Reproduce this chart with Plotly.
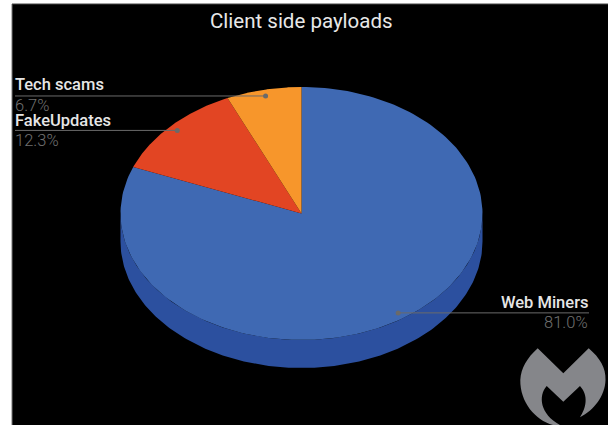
import numpy as np
import plotly.graph_objects as go

# Slices, clockwise from twelve o'clock
categories = ["Web Miners", "FakeUpdates", "Tech scams"]
shares = [81.0, 12.3, 6.7]
slice_colors = ["#3f69b3", "#e24523", "#f7962b"]
wall_color = "#2c509f"
title_text = "Client side payloads"

# Page geometry in pixels
WIDTH, HEIGHT = 608, 425
LEFT, TOP = 12, 4
CX, CY, RX, RY = 301.5, 213.5, 181, 126.5
DEPTH = 28 / RY


def px_x(px):
    return (px - LEFT) / (WIDTH - LEFT)


def px_y(py):
    return (HEIGHT - py) / (HEIGHT - TOP)


def rim(theta):
    """Point on the unit pie top for clockwise angle theta, 0 at the top."""
    return np.sin(theta), np.cos(theta)


fig = go.Figure()

# Front wall of the tilted disc
t = np.linspace(np.pi / 2, 3 * np.pi / 2, 200)
wx, wy = rim(t)
fig.add_trace(go.Scatter(
    x=np.concatenate([wx, wx[::-1]]),
    y=np.concatenate([wy - DEPTH, wy[::-1]]),
    fill="toself", fillcolor=wall_color, mode="lines", line=dict(width=0),
    hoverinfo="skip",
))

# Top face of each slice
edges = np.concatenate([[0], np.cumsum(shares)]) / sum(shares) * 2 * np.pi
mids = (edges[:-1] + edges[1:]) / 2
for i, color in enumerate(slice_colors):
    t = np.linspace(edges[i], edges[i + 1], 200)
    sx, sy = rim(t)
    fig.add_trace(go.Scatter(
        x=np.concatenate([[0], sx, [0]]),
        y=np.concatenate([[0], sy, [0]]),
        fill="toself", fillcolor=color, mode="lines", line=dict(width=0),
        name=categories[i], hoverinfo="name",
    ))

# Leader lines: slice anchor out to its label column
label_ends = [589, 15, 15]
label_lines = [313, 131, 96]
for i, (x_end, y_line) in enumerate(zip(label_ends, label_lines)):
    ax, ay = rim(mids[i])
    ax, ay = ax * 0.95, ay * 0.95
    fig.add_trace(go.Scatter(
        x=[ax, (x_end - CX) / RX], y=[ay, ay],
        mode="lines", line=dict(color="#6a6a6a", width=1), hoverinfo="skip",
    ))
    fig.add_trace(go.Scatter(
        x=[ax], y=[ay], mode="markers",
        marker=dict(color="#6a6a6a", size=5), hoverinfo="skip",
    ))

annotations = [dict(
    text=title_text, x=px_x(301.5), y=px_y(21), xref="paper", yref="paper",
    showarrow=False, xanchor="center", yanchor="middle",
    font=dict(family="Roboto", size=20.5, color="#e8e8e8"),
)]
for i, (x_end, y_line) in enumerate(zip(label_ends, label_lines)):
    anchor = "right" if x_end > CX else "left"
    nudge = 0 if x_end > CX else -1
    annotations.append(dict(
        text=categories[i], x=px_x(x_end), y=px_y(y_line - 11),
        xref="paper", yref="paper", showarrow=False, xanchor=anchor,
        yanchor="middle", xshift=nudge, borderpad=0,
        font=dict(family="Roboto", size=16.5, weight=500, color="#e6e6e6"),
    ))
    annotations.append(dict(
        text=f"{shares[i]:.1f}%", x=px_x(x_end), y=px_y(y_line + 9.5),
        xref="paper", yref="paper", showarrow=False, xanchor=anchor,
        yanchor="middle", xshift=nudge, borderpad=0,
        font=dict(family="Roboto", size=16.5, weight=300, color="#707070"),
    ))


def logo_path():
    """Grey vendor badge, outlined with curves in page pixels."""
    segments = [
        ("M", [(537.7, 348.3)]),
        ("L", [(563.3, 373.3)]),
        ("L", [(588.7, 348.3)]),
        ("C", [(600, 358), (606, 368), (605.5, 380)]),
        ("C", [(605, 396), (594, 410), (580, 417.3)]),
        ("C", [(586, 408), (589, 396), (580, 386)]),
        ("L", [(563.3, 401.7)]),
        ("L", [(546.7, 386)]),
        ("C", [(538, 396), (540, 414), (560, 425)]),
        ("L", [(553, 425)]),
        ("C", [(535, 420), (520, 402), (520.3, 380)]),
        ("C", [(521, 368), (527, 358), (537.7, 348.3)]),
    ]
    parts = []
    for cmd, pts in segments:
        coords = " ".join(f"{px_x(x):.5f},{px_y(y):.5f}" for x, y in pts)
        parts.append(f"{cmd} {coords}")
    return " ".join(parts) + " Z"


shapes = [
    dict(type="path", path=logo_path(), xref="paper", yref="paper",
         fillcolor="#85868a", line=dict(width=0), layer="above"),
    # Thin grey frame along the panel's top and left edges
    dict(type="line", x0=0, x1=0, y0=0, y1=1, xref="paper", yref="paper",
         line=dict(color="#777777", width=1)),
    dict(type="line", x0=0, x1=1, y0=1, y1=1, xref="paper", yref="paper",
         line=dict(color="#444444", width=1)),
]

fig.update_layout(
    width=WIDTH, height=HEIGHT, showlegend=False,
    paper_bgcolor="#ffffff", plot_bgcolor="#000000",
    margin=dict(l=LEFT, r=0, t=TOP, b=0, pad=0),
    xaxis=dict(range=[(LEFT - CX) / RX, (WIDTH - CX) / RX], visible=False,
               fixedrange=True),
    yaxis=dict(range=[(CY - HEIGHT) / RY, (CY - TOP) / RY], visible=False,
               fixedrange=True),
    annotations=annotations, shapes=shapes,
)

fig.write_html("out.html", config=dict(displayModeBar=False))
